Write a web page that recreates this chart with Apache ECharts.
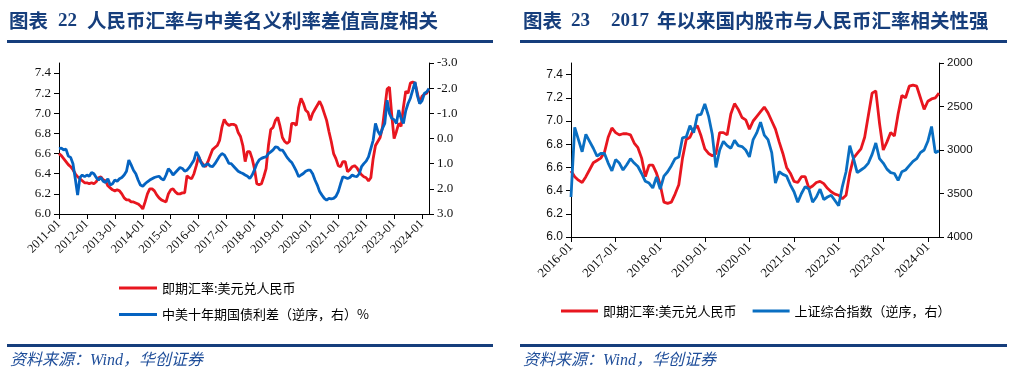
<!DOCTYPE html>
<html lang="zh">
<head>
<meta charset="UTF-8">
<title>人民币汇率</title>
<script src="https://cdn.jsdelivr.net/npm/echarts@6/dist/echarts.min.js"></script>
<style>
  html, body { margin: 0; padding: 0; background: #fff; }
  #main { width: 1024px; height: 376px; }
</style>
</head>
<body>
<div id="main"></div>
<script>
// 月度数据，2011-01 ~ 2024-04（左图）
var usdcny = [
  6.60, 6.58, 6.55, 6.52, 6.49, 6.47, 6.44, 6.40, 6.37, 6.35, 6.33, 6.31,
  6.31, 6.30, 6.31, 6.30, 6.32, 6.36, 6.37, 6.34, 6.33, 6.28, 6.26, 6.24,
  6.23, 6.24, 6.23, 6.20, 6.16, 6.14, 6.14, 6.12, 6.12, 6.11, 6.10, 6.08,
  6.05, 6.12, 6.20, 6.25, 6.25, 6.23, 6.19, 6.16, 6.14, 6.13, 6.12, 6.20,
  6.24, 6.25, 6.22, 6.20, 6.20, 6.21, 6.21, 6.38, 6.36, 6.35, 6.40, 6.48,
  6.57, 6.52, 6.49, 6.47, 6.52, 6.58, 6.64, 6.66, 6.68, 6.73, 6.86, 6.94,
  6.90, 6.88, 6.89, 6.89, 6.88, 6.81, 6.77, 6.68, 6.52, 6.62, 6.62, 6.55,
  6.45, 6.30, 6.29, 6.30, 6.37, 6.45, 6.68, 6.84, 6.86, 6.93, 6.96, 6.87,
  6.76, 6.72, 6.70, 6.72, 6.90, 6.90, 6.88, 7.06, 7.15, 7.10, 7.03, 7.01,
  6.93, 7.00, 7.04, 7.08, 7.12, 7.07, 7.00, 6.93, 6.82, 6.72, 6.60, 6.55,
  6.48, 6.47, 6.52, 6.52, 6.42, 6.44, 6.47, 6.48, 6.46, 6.42, 6.39, 6.37,
  6.36, 6.33, 6.36, 6.55, 6.68, 6.72, 6.76, 6.86, 7.05, 7.24, 7.26, 6.98,
  6.75, 6.82, 6.90, 6.87, 7.06, 7.22, 7.20, 7.30, 7.31, 7.30, 7.20, 7.10,
  7.17, 7.19, 7.20, 7.24
];
// 中美十年期国债利差 %
var spreadCnUs = [
  0.40, 0.38, 0.45, 0.42, 0.70, 0.75, 1.00, 1.60, 2.25, 1.55, 1.45, 1.52,
  1.45, 1.50, 1.35, 1.40, 1.55, 1.65, 1.55, 1.70, 1.75, 1.60, 1.85, 1.80,
  1.65, 1.70, 1.60, 1.55, 1.45, 1.30, 0.86, 1.05, 1.26, 1.40, 1.65, 1.85,
  1.90, 1.80, 1.72, 1.65, 1.60, 1.55, 1.52, 1.50, 1.60, 1.65, 1.45, 1.20,
  1.30, 1.45, 1.35, 1.25, 1.15, 1.19, 1.30, 1.26, 1.15, 1.00, 0.86, 0.53,
  0.70, 0.95, 1.12, 1.05, 1.00, 1.10, 1.12, 1.00, 0.85, 0.70, 0.60, 0.65,
  0.80, 0.99, 1.00, 1.10, 1.20, 1.30, 1.35, 1.39, 1.45, 1.50, 1.59, 1.45,
  1.25, 1.00, 0.85, 0.79, 0.75, 0.73, 0.60, 0.53, 0.45, 0.33, 0.35, 0.46,
  0.46, 0.60, 0.75, 0.86, 0.95, 1.12, 1.30, 1.52, 1.45, 1.39, 1.30, 1.26,
  1.26, 1.40, 1.65, 1.85, 2.11, 2.25, 2.38, 2.45, 2.38, 2.40, 2.38, 2.30,
  2.11, 1.80, 1.52, 1.55, 1.59, 1.55, 1.45, 1.50, 1.52, 1.40, 1.12, 1.00,
  0.90, 0.73, 0.40, 0.07, -0.60, -0.30, -0.14, -0.40, -0.60, -1.52, -1.00, -0.80,
  -0.75, -0.60, -1.13, -0.80, -0.60, -1.10, -1.39, -1.60, -1.92, -2.25, -1.70, -1.39,
  -1.50, -1.79, -1.85, -1.99
];
// 上证综合指数，2016-01 ~ 2024-04（右图）
var sseComposite = [
  3540, 2740, 2880, 3020, 2820, 2900, 2980, 3070, 3040, 3040, 3150, 3240,
  3110, 3150, 3230, 3170, 3100, 3150, 3190, 3270, 3360, 3380, 3437, 3310,
  3450, 3300, 3250, 3180, 3100, 3080, 2860, 2850, 2720, 2800, 2600, 2590,
  2470, 2610, 2820, 3200, 3000, 2900, 2950, 2980, 2890, 2950, 2960, 3000,
  3080, 2880, 2800, 2680, 2830, 2880, 3030, 3380, 3250, 3280, 3300, 3400,
  3480, 3600, 3500, 3420, 3450, 3600, 3540, 3450, 3570, 3540, 3520, 3580,
  3640, 3420, 3250, 2950, 3100, 3260, 3230, 3200, 3150, 3050, 2920, 3100,
  3150, 3220, 3260, 3270, 3350, 3250, 3230, 3180, 3130, 3100, 3030, 3000,
  2900, 2730, 3030, 3010
];

function monthList(y0, y1, lastMonth) {
  var out = [];
  for (var y = y0; y <= y1; y++) {
    for (var m = 1; m <= 12; m++) {
      if (y === y1 && m > lastMonth) break;
      out.push(y + '-' + (m < 10 ? '0' + m : m));
    }
  }
  return out;
}
var months1 = monthList(2011, 2024, 4);
var months2 = monthList(2016, 2024, 4);
var usdcny2 = usdcny.slice(months1.indexOf('2016-01'));

var RED = '#E8161F', BLUE = '#0563C1', BLUE2 = '#0A6FC2', NAVY = '#163E7C';
var janOnly = function (i, v) { return v.slice(5) === '01'; };
var nameFx = '即期汇率:美元兑人民币';
var nameSpread = '中美十年期国债利差（逆序，右）%';
var nameSse = '上证综合指数（逆序，右）';

function xAxisOf(grid, data, font, size) {
  return {
    type: 'category', gridIndex: grid, data: data, boundaryGap: false,
    axisLine: { onZero: false, lineStyle: { color: '#000', width: 1 } },
    axisTick: { interval: janOnly, length: 5, lineStyle: { color: '#000' } },
    axisLabel: { interval: janOnly, rotate: 45, margin: 8, color: '#111', fontFamily: font, fontSize: size },
    splitLine: { show: false }
  };
}
function yAxisOf(grid, pos, opt) {
  var a = {
    type: 'value', gridIndex: grid, position: pos,
    axisLine: { show: true, onZero: false, lineStyle: { color: '#000', width: 1 } },
    axisTick: { show: true, length: 5, lineStyle: { color: '#000' } },
    splitLine: { show: false },
    axisLabel: { color: '#111', margin: 8 }
  };
  for (var k in opt) {
    if (k === 'axisLabel') Object.assign(a.axisLabel, opt[k]);
    else a[k] = opt[k];
  }
  return a;
}
function oneDecimal(v) { return v.toFixed(1); }

var chart = echarts.init(document.getElementById('main'));
var titleFont = 'bold 19.5px "Noto Sans CJK SC"';
var numFont = 'bold 19px "Liberation Serif"';
var legendText = { fontFamily: 'Noto Sans CJK SC', fontSize: 13, color: '#000' };

chart.setOption({
  animation: false,
  backgroundColor: '#fff',
  grid: [
    { left: 59, top: 63, width: 370, height: 151 },
    { left: 571, top: 63, width: 368, height: 174 }
  ],
  xAxis: [
    xAxisOf(0, months1, 'Liberation Serif', 12.5),
    xAxisOf(1, months2, 'Liberation Serif', 13)
  ],
  yAxis: [
    yAxisOf(0, 'left', { min: 6.0, max: 7.5, interval: 0.2,
      axisLabel: { fontFamily: 'Liberation Serif', fontSize: 13, showMaxLabel: false, formatter: oneDecimal } }),
    yAxisOf(0, 'right', { min: -3, max: 3, interval: 1, inverse: true,
      axisLabel: { fontFamily: 'Liberation Serif', fontSize: 13, formatter: oneDecimal } }),
    yAxisOf(1, 'left', { min: 6.0, max: 7.5, interval: 0.2,
      axisLabel: { fontFamily: 'Liberation Sans', fontSize: 12, showMaxLabel: false, formatter: oneDecimal } }),
    yAxisOf(1, 'right', { min: 2000, max: 4000, interval: 500, inverse: true,
      axisLabel: { fontFamily: 'Liberation Sans', fontSize: 11.5, formatter: function (v) { return String(v); } } })
  ],
  legend: [
    {
      orient: 'vertical', left: 119, top: 281, padding: 0, itemWidth: 38, itemHeight: 3, itemGap: 12.5,
      icon: 'rect', data: [nameFx, nameSpread], textStyle: Object.assign({ lineHeight: 14 }, legendText)
    },
    {
      orient: 'horizontal', left: 561, top: 304, padding: 0, itemWidth: 37, itemHeight: 3, itemGap: 16,
      icon: 'rect', data: [nameFx, nameSse], textStyle: Object.assign({ lineHeight: 14 }, legendText)
    }
  ],
  series: [
    { name: nameFx, type: 'line', xAxisIndex: 0, yAxisIndex: 0, data: usdcny,
      showSymbol: false, symbol: 'none', lineStyle: { color: RED, width: 2.8 }, itemStyle: { color: RED } },
    { name: nameSpread, type: 'line', xAxisIndex: 0, yAxisIndex: 1, data: spreadCnUs,
      showSymbol: false, symbol: 'none', lineStyle: { color: BLUE, width: 2.8 }, itemStyle: { color: BLUE } },
    { name: nameFx, type: 'line', xAxisIndex: 1, yAxisIndex: 2, data: usdcny2,
      showSymbol: false, symbol: 'none', lineStyle: { color: RED, width: 2.8 }, itemStyle: { color: RED } },
    { name: nameSse, type: 'line', xAxisIndex: 1, yAxisIndex: 3, data: sseComposite,
      showSymbol: false, symbol: 'none', lineStyle: { color: BLUE2, width: 2.8 }, itemStyle: { color: BLUE2 } }
  ],
  graphic: [
    { type: 'text', x: 9, y: 21, style: { text: '图表', font: titleFont, fill: NAVY, verticalAlign: 'middle' } },
    { type: 'text', x: 58, y: 21, style: { text: '22', font: numFont, fill: NAVY, verticalAlign: 'middle' } },
    { type: 'text', x: 87, y: 21, style: { text: '人民币汇率与中美名义利率差值高度相关', font: titleFont, fill: NAVY, verticalAlign: 'middle' } },
    { type: 'text', x: 523, y: 21, style: { text: '图表', font: titleFont, fill: NAVY, verticalAlign: 'middle' } },
    { type: 'text', x: 571, y: 21, style: { text: '23', font: numFont, fill: NAVY, verticalAlign: 'middle' } },
    { type: 'text', x: 611, y: 21, style: { text: '2017', font: numFont, fill: NAVY, verticalAlign: 'middle' } },
    { type: 'text', x: 657, y: 21, style: { text: '年以来国内股市与人民币汇率相关性强', font: titleFont, fill: NAVY, verticalAlign: 'middle' } },
    { type: 'rect', shape: { x: 7, y: 40, width: 486, height: 3 }, style: { fill: NAVY } },
    { type: 'rect', shape: { x: 520, y: 40, width: 487, height: 3 }, style: { fill: NAVY } },
    { type: 'rect', shape: { x: 7, y: 344, width: 486, height: 3 }, style: { fill: NAVY } },
    { type: 'rect', shape: { x: 520, y: 344, width: 487, height: 3 }, style: { fill: NAVY } },
    { type: 'text', x: 10, y: 361, style: { text: '资料来源：Wind，华创证券', font: 'italic 16px "Liberation Serif", "Noto Sans CJK SC"', fill: '#1F4E9A', verticalAlign: 'middle' } },
    { type: 'text', x: 523, y: 361, style: { text: '资料来源：Wind，华创证券', font: 'italic 16px "Liberation Serif", "Noto Sans CJK SC"', fill: '#1F4E9A', verticalAlign: 'middle' } }
  ]
});
</script>
</body>
</html>
